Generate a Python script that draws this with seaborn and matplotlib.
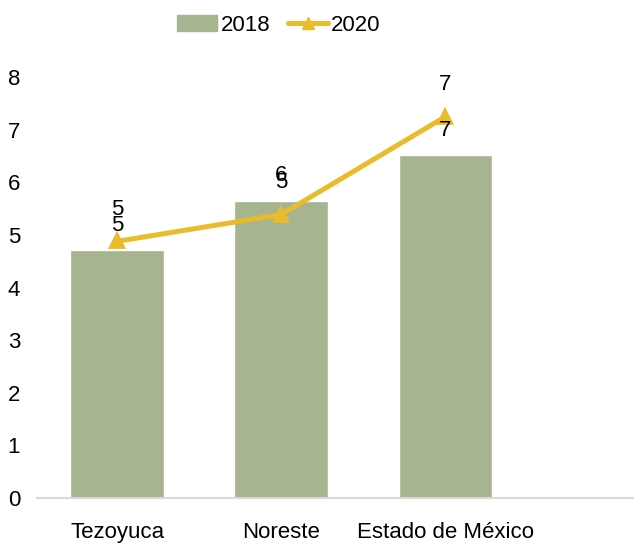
import matplotlib
matplotlib.use("Agg")
import matplotlib.pyplot as plt
import seaborn as sns
import pandas as pd
from matplotlib.patches import Patch
from matplotlib.lines import Line2D

categories = ["Tezoyuca", "Noreste", "Estado de México"]
values_2018 = [4.71, 5.65, 6.52]
values_2020 = [4.88, 5.39, 7.25]

bar_color = "#A6B490"
line_color = "#E8BC2A"

sns.set_style("white")
plt.rcParams['font.family'] = ['Liberation Sans Narrow', 'Liberation Sans', 'DejaVu Sans']
plt.rcParams['text.color'] = 'black'
plt.rcParams['xtick.color'] = 'black'
plt.rcParams['ytick.color'] = 'black'

df = pd.DataFrame({"region": categories, "v2018": values_2018, "v2020": values_2020})

fig = plt.figure(figsize=(6.34, 5.44), dpi=100)
ax = fig.add_axes([0.058, 0.0846, 0.942, 0.7734])

sns.barplot(data=df, x="region", y="v2018", color=bar_color, width=0.57,
            saturation=1, ax=ax)
sns.pointplot(data=df, x="region", y="v2020", color=line_color, markers="^",
              markersize=9, linewidth=3.6, ax=ax)

# data labels (overlap like the original)
for i, v in enumerate(values_2018):
    ax.annotate(f"{v:.0f}", (i, v), xytext=(0, 18), textcoords="offset points",
                ha="center", va="center", fontsize=16, color="black")
for i, v in enumerate(values_2020):
    ax.annotate(f"{v:.0f}", (i, v), xytext=(0, 23), textcoords="offset points",
                ha="center", va="center", fontsize=16, color="black")

ax.set_ylim(0, 8)
ax.set_xlim(-0.49, 3.15)
ax.set_yticks(range(0, 9))
ax.set_xlabel("")
ax.set_ylabel("")
ax.tick_params(axis="both", length=0, labelsize=16, labelcolor="black")
ax.tick_params(axis="x", pad=17)
ax.tick_params(axis="y", pad=12)
for s in ["top", "right", "left"]:
    ax.spines[s].set_visible(False)
ax.spines["bottom"].set_color("#D9D9D9")
ax.spines["bottom"].set_linewidth(1.5)

handles = [Patch(color=bar_color, label="2018"),
           Line2D([0], [0], color=line_color, lw=3.6, marker="^", markersize=8, label="2020")]
fig.legend(handles=handles, loc="upper center", bbox_to_anchor=(0.44, 1.01), ncol=2,
           frameon=False, fontsize=16, handlelength=1.8, handletextpad=0.15,
           columnspacing=0.8, labelcolor="black")

fig.savefig("out.png", dpi=100)
